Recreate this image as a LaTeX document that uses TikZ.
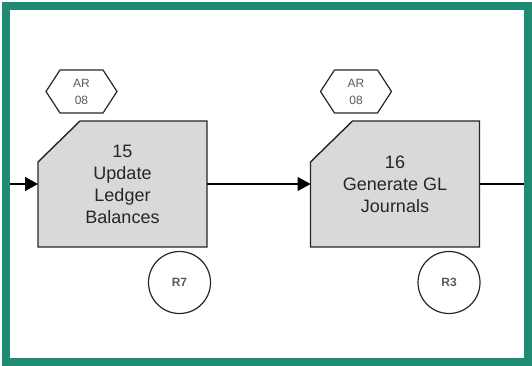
\documentclass[tikz,border=0pt]{standalone}
\usepackage{fontspec}
\setmainfont{Liberation Sans}
\usetikzlibrary{arrows.meta,backgrounds}
\definecolor{frameteal}{HTML}{1E8B72}
\definecolor{boxgrey}{HTML}{D9D9D9}
\definecolor{labelgrey}{HTML}{5A5A5A}
\tikzset{
  procbox/.style={rectangle, minimum width=169pt, minimum height=126pt, inner sep=0pt, outer sep=0pt,
    align=center, font=\fontsize{18}{22}\selectfont, text=black!85},
  tagbox/.style={rectangle, minimum width=71pt, minimum height=43pt, inner sep=0pt, outer sep=0pt,
    align=center, font=\fontsize{12}{17}\selectfont, text=labelgrey},
  procshape/.style={draw=black!85, line width=1.4pt, fill=boxgrey, line join=miter},
  tagshape/.style={draw=black!85, line width=1.2pt, fill=white},
  refcirc/.style={circle, draw=black!85, line width=1.2pt, minimum size=62pt, inner sep=0pt,
    font=\fontsize{12}{14}\selectfont\bfseries, text=labelgrey},
  flow/.style={line width=1.4pt, draw=black},
  flowarrow/.style={flow, -{Triangle[length=13pt,width=14pt]}}
}
% outline of a process step with its cut top-left corner
\newcommand\procoutline[1]{%
  \path[procshape] ([xshift=42pt]#1.north west) -- (#1.north east) -- (#1.south east)
    -- (#1.south west) -- ([yshift=-41pt]#1.north west) -- cycle;}
% outline of a hexagonal tag
\newcommand\tagoutline[1]{%
  \path[tagshape] (#1.west) -- ([xshift=14pt]#1.north west) -- ([xshift=-14pt]#1.north east)
    -- (#1.east) -- ([xshift=-14pt]#1.south east) -- ([xshift=14pt]#1.south west) -- cycle;}
\begin{document}
\begin{tikzpicture}[x=1pt,y=-1pt]
  \useasboundingbox (0,0) rectangle (532,366);
  \draw[frameteal, line width=8pt] (6,6) rectangle (528,362);

  % process steps
  \node[procbox] (p15) at (122.5,184) {15\\Update\\Ledger\\Balances};
  \node[procbox] (p16) at (395,184) {16\\Generate GL\\Journals};

  % application tags
  \node[tagbox] (t15) at (81.5,91.5) {AR\\08};
  \node[tagbox] (t16) at (356,91.5) {AR\\08};

  \begin{scope}[on background layer]
    \procoutline{p15}
    \procoutline{p16}
    \tagoutline{t15}
    \tagoutline{t16}
  \end{scope}

  % references
  \node[refcirc] (r7) at (179.5,282.5) {R7};
  \node[refcirc] (r3) at (449,282.5) {R3};

  % flow
  \coordinate (in) at (10,184);
  \coordinate (out) at (524,184);
  \draw[flowarrow] (in) -- (p15.west);
  \draw[flowarrow] (p15.east) -- (p16.west);
  \draw[flow] (p16.east) -- (out);
\end{tikzpicture}
\end{document}
